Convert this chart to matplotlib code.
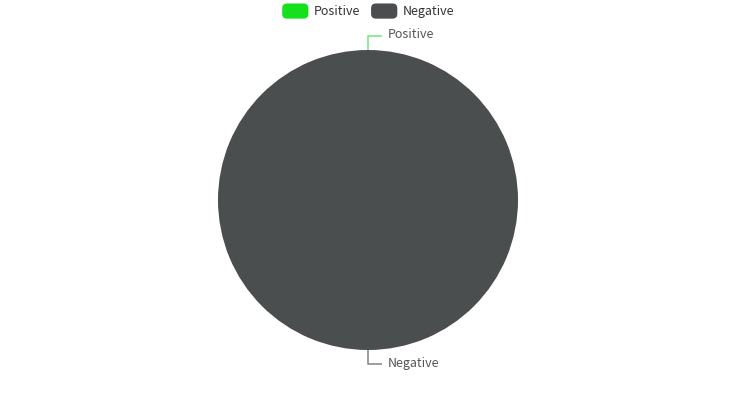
import matplotlib
matplotlib.use("Agg")
import matplotlib.pyplot as plt
import matplotlib.patches as mpatches
from matplotlib.legend_handler import HandlerPatch
import numpy as np

categories = ["Positive", "Negative"]
values = [0, 100]
colors = ["#14e01e", "#4a4e4e"]
line_colors = ["#7de88a", "#8a8c8c"]

plt.rcParams['font.family'] = ['Noto Sans CJK SC', 'DejaVu Sans']

W, H = 736, 400
fig = plt.figure(figsize=(W / 100, H / 100), dpi=100)
ax = fig.add_axes([0, 0, 1, 1])
ax.set_xlim(0, W)
ax.set_ylim(0, H)
ax.set_aspect('equal')
ax.axis('off')

cx, cy, r = 368, H - 200, 150
wedges, _ = ax.pie(values, colors=colors, startangle=90, counterclock=False,
                   center=(cx, cy), radius=r, frame=True,
                   wedgeprops=dict(linewidth=0))
ax.set_xlim(0, W)
ax.set_ylim(0, H)
ax.axis('off')

for w, lab, lc in zip(wedges, categories, line_colors):
    ang = np.deg2rad((w.theta1 + w.theta2) / 2)
    x0 = cx + r * np.cos(ang)
    y0 = cy + r * np.sin(ang)
    sgn = 1 if np.sin(ang) >= 0 else -1
    x1, y1 = x0, y0 + sgn * 14
    x2 = x1 + 14
    ax.plot([x0, x1, x2], [y0, y1, y1], color=lc, lw=1.2, solid_capstyle='butt')
    ax.text(x2 + 6, y1 + 1, lab, fontsize=9, color='#555555', va='center', ha='left')


class RoundHandler(HandlerPatch):
    def create_artists(self, legend, orig_handle, xdescent, ydescent, width, height, fontsize, trans):
        p = mpatches.FancyBboxPatch((-xdescent, -ydescent - 1), width, height + 2,
                                    boxstyle=mpatches.BoxStyle("Round", pad=0, rounding_size=3.5),
                                    facecolor=orig_handle.get_facecolor(), edgecolor='none',
                                    transform=trans)
        return [p]


handles = [mpatches.Patch(facecolor=c, label=l) for c, l in zip(colors, categories)]
fig.legend(handles=handles, loc='upper center', bbox_to_anchor=(0.5, 1.016), ncol=2,
           frameon=False, fontsize=9, handlelength=2.1, handleheight=1.15,
           handletextpad=0.4, columnspacing=0.9, labelcolor='#333333',
           handler_map={mpatches.Patch: RoundHandler()})

fig.savefig("out.png", dpi=100)
